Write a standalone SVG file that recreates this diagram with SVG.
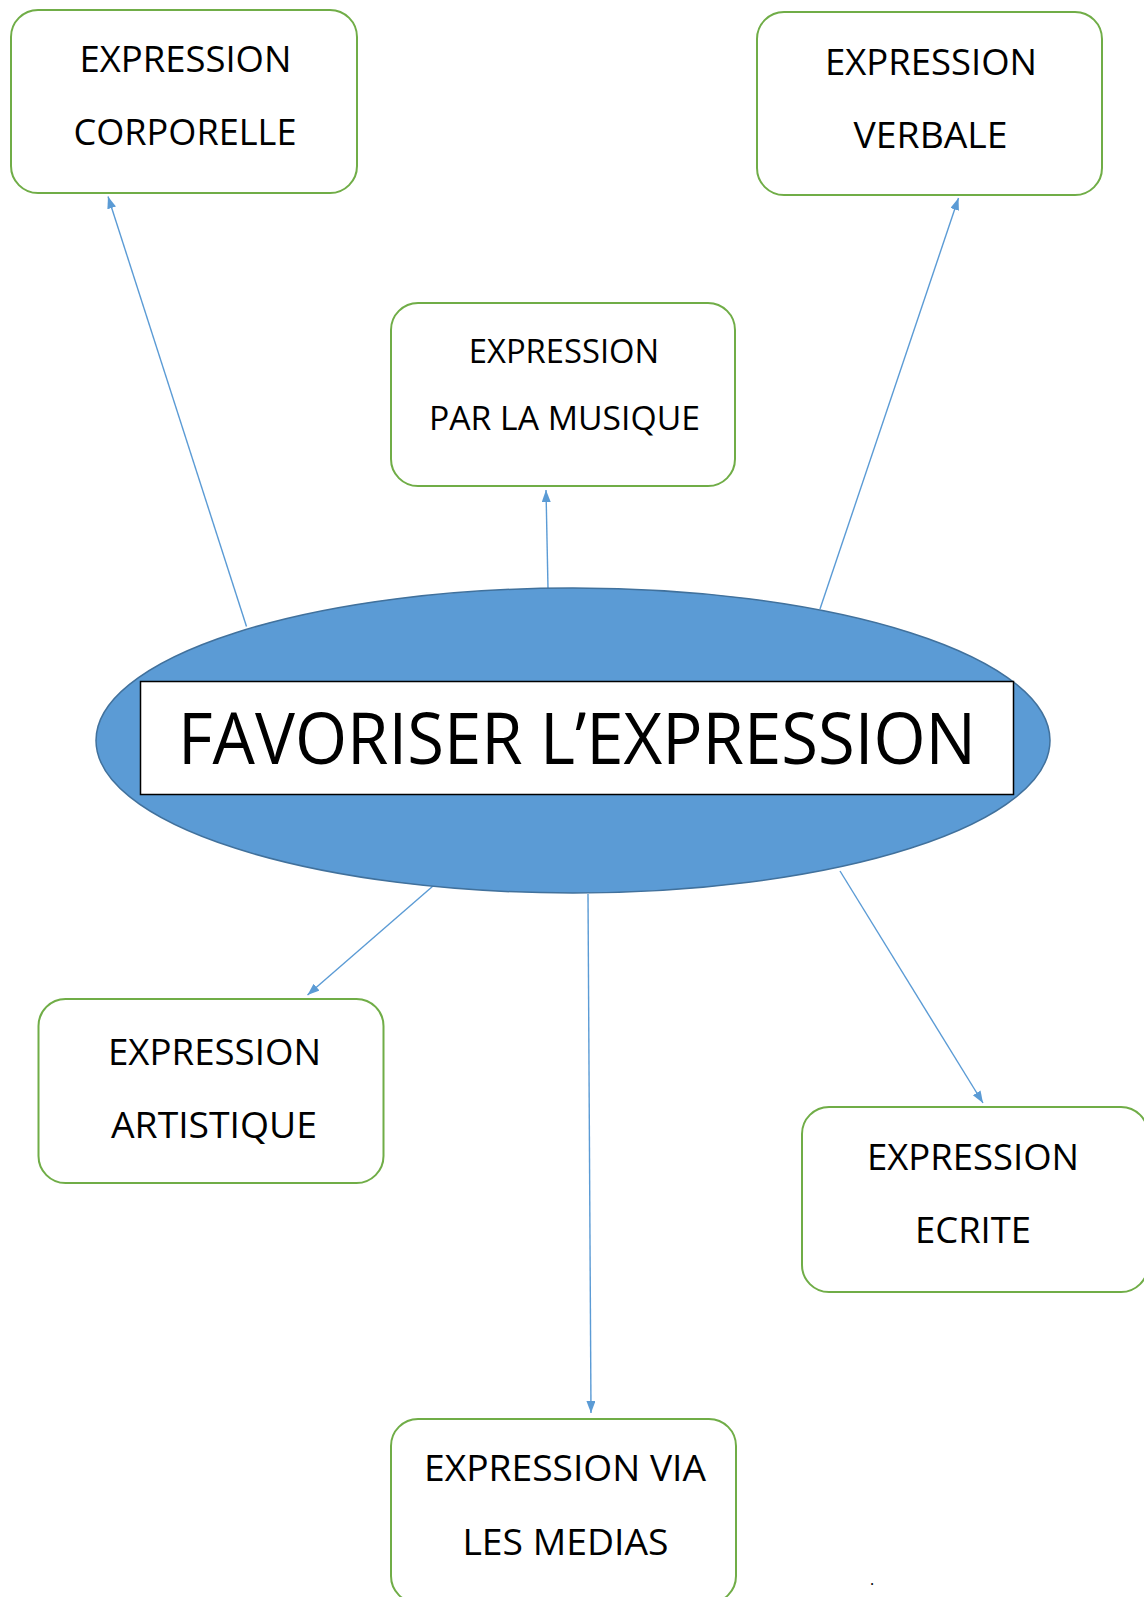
<svg xmlns="http://www.w3.org/2000/svg" width="1144" height="1597" viewBox="0 0 1144 1597">
<style>
.box{fill:#ffffff;stroke:#70AD47;stroke-width:2}
.lbl{font-family:"Open Sans","Noto Sans",sans-serif;font-size:36.5px;fill:#000;text-anchor:middle}
.conn{stroke:#5B9BD5;stroke-width:1.4;fill:none;marker-end:url(#arr)}
</style>
<defs>
<marker id="arr" markerUnits="userSpaceOnUse" markerWidth="13" markerHeight="10" refX="12" refY="4.5" orient="auto">
<path d="M0,0 L12,4.5 L0,9 z" fill="#5B9BD5"/>
</marker>
</defs>
<rect width="1144" height="1597" fill="#ffffff"/>
<g id="connectors">
<line class="conn" x1="246.5" y1="626.5" x2="108" y2="196.5"/>
<line class="conn" x1="548" y1="588" x2="546" y2="490"/>
<line class="conn" x1="820" y1="609" x2="958.5" y2="198"/>
<line class="conn" x1="433" y1="886" x2="307.5" y2="995"/>
<line class="conn" x1="588" y1="894" x2="591" y2="1413"/>
<line class="conn" x1="840" y1="871" x2="983" y2="1103"/>
</g>
<g id="center">
<ellipse cx="573" cy="740.5" rx="477" ry="152.5" fill="#5B9BD5" stroke="#41719C" stroke-width="1.5"/>
<rect x="140.5" y="681.5" width="873" height="113" fill="#ffffff" stroke="#000" stroke-width="1.5"/>
<text x="577" y="764" font-family="'Open Sans','Noto Sans',sans-serif" font-size="71" text-anchor="middle" textLength="798" lengthAdjust="spacingAndGlyphs">FAVORISER L’EXPRESSION</text>
</g>
<g id="corporelle">
<rect class="box" x="11" y="10" width="346" height="183" rx="27"/>
<text class="lbl" x="185.4" y="72" textLength="212" lengthAdjust="spacingAndGlyphs">EXPRESSION</text>
<text class="lbl" x="185" y="145" textLength="223" lengthAdjust="spacingAndGlyphs">CORPORELLE</text>
</g>
<g id="verbale">
<rect class="box" x="757" y="12" width="345" height="183" rx="27"/>
<text class="lbl" x="931" y="75" textLength="212" lengthAdjust="spacingAndGlyphs">EXPRESSION</text>
<text class="lbl" x="930.6" y="148" textLength="154" lengthAdjust="spacingAndGlyphs">VERBALE</text>
</g>
<g id="musique">
<rect class="box" x="391" y="303" width="344" height="183" rx="27"/>
<text class="lbl" x="564" y="363" style="font-size:33.5px" textLength="190.5" lengthAdjust="spacingAndGlyphs">EXPRESSION</text>
<text class="lbl" x="564.5" y="430" style="font-size:33.5px" textLength="271" lengthAdjust="spacingAndGlyphs">PAR LA MUSIQUE</text>
</g>
<g id="artistique">
<rect class="box" x="38.5" y="999" width="345" height="184" rx="27"/>
<text class="lbl" x="214.5" y="1065" textLength="213" lengthAdjust="spacingAndGlyphs">EXPRESSION</text>
<text class="lbl" x="214" y="1138" textLength="206" lengthAdjust="spacingAndGlyphs">ARTISTIQUE</text>
</g>
<g id="ecrite">
<rect class="box" x="802" y="1107" width="346" height="185" rx="27"/>
<text class="lbl" x="973" y="1170" textLength="212" lengthAdjust="spacingAndGlyphs">EXPRESSION</text>
<text class="lbl" x="973" y="1243" textLength="116" lengthAdjust="spacingAndGlyphs">ECRITE</text>
</g>
<g id="medias">
<rect class="box" x="391" y="1419" width="345" height="184" rx="27"/>
<text class="lbl" x="565" y="1481" textLength="282" lengthAdjust="spacingAndGlyphs">EXPRESSION VIA</text>
<text class="lbl" x="565.4" y="1555" textLength="206" lengthAdjust="spacingAndGlyphs">LES MEDIAS</text>
</g>
<text x="872" y="1585" font-family="'Open Sans',sans-serif" font-size="16" text-anchor="middle">.</text>
</svg>
